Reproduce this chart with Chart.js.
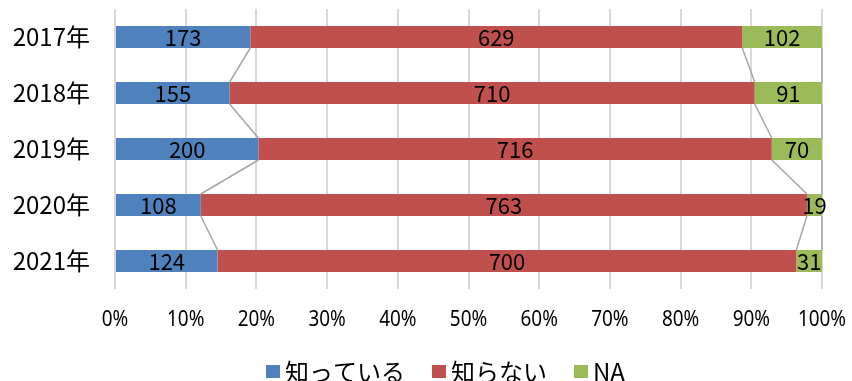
<!DOCTYPE html>
<html><head><meta charset="utf-8">
<script src="https://cdn.jsdelivr.net/npm/chart.js@4/dist/chart.umd.min.js"></script>
<style>html,body{margin:0;padding:0;background:#fff}#wrap{width:852px;height:381px}</style>
</head><body><div id="wrap"><canvas id="c" width="852" height="381"></canvas></div>
<script>
const categories = ["2017年","2018年","2019年","2020年","2021年"];
const seriesNames = ["知っている","知らない","NA"];
const known = [173,155,200,108,124];
const unknown = [629,710,716,763,700];
const na = [102,91,70,19,31];
const tickValues = [0,10,20,30,40,50,60,70,80,90,100];
const tickLabels = ["0%","10%","20%","30%","40%","50%","60%","70%","80%","90%","100%"];
const colors = ["#4f81bd","#c0504d","#9bbb59"];

const raw = [known, unknown, na];
const totals = categories.map((_, i) => raw.reduce((s, a) => s + a[i], 0));
const pct = raw.map(a => a.map((v, i) => v / totals[i] * 100));

const seriesLines = {
  id: 'seriesLines',
  afterDatasetsDraw(chart) {
    const ctx = chart.ctx, xs = chart.scales.x;
    ctx.save();
    ctx.strokeStyle = '#a6a6a6';
    ctx.lineWidth = 1.5;
    const cum = categories.map(() => 0);
    raw.forEach((a, d) => {
      const meta = chart.getDatasetMeta(d);
      categories.forEach((_, i) => cum[i] += pct[d][i]);
      for (let i = 0; i < categories.length - 1; i++) {
        const b1 = meta.data[i], b2 = meta.data[i + 1];
        ctx.beginPath();
        ctx.moveTo(xs.getPixelForValue(Math.min(cum[i],100)), b1.y + b1.height / 2);
        ctx.lineTo(xs.getPixelForValue(Math.min(cum[i+1],100)), b2.y - b2.height / 2);
        ctx.stroke();
      }
    });
    ctx.restore();
  }
};

const valueLabels = {
  id: 'valueLabels',
  afterDatasetsDraw(chart) {
    const ctx = chart.ctx;
    ctx.save();
    ctx.fillStyle = '#000';
    ctx.font = '22px "Noto Sans CJK JP", sans-serif';
    ctx.textAlign = 'center';
    ctx.textBaseline = 'middle';
    raw.forEach((a, d) => {
      chart.getDatasetMeta(d).data.forEach((bar, i) => {
        const cx = (bar.x + bar.base) / 2;
        ctx.fillText(String(a[i]), cx, bar.y + 1);
      });
    });
    ctx.restore();
  }
};

// x tick labels (slightly condensed) + legend
const axisAndLegend = {
  id: 'axisAndLegend',
  afterDraw(chart) {
    const ctx = chart.ctx, xs = chart.scales.x, area = chart.chartArea;
    const sx = 0.9;
    ctx.save();
    ctx.fillStyle = '#000';
    ctx.textBaseline = 'middle';
    ctx.textAlign = 'center';
    ctx.font = '21px "Noto Sans", sans-serif';
    tickValues.forEach((v, i) => {
      const px = xs.getPixelForValue(v);
      ctx.save();
      ctx.translate(px, area.bottom + 31);
      ctx.scale(sx, 1);
      ctx.fillText(tickLabels[i], 0, 0);
      ctx.restore();
    });
    // legend
    ctx.font = '24px "Noto Sans CJK JP", sans-serif';
    ctx.textAlign = 'left';
    let x = 266;
    const ly = area.bottom + 83;
    seriesNames.forEach((n, d) => {
      ctx.fillStyle = colors[d];
      ctx.fillRect(x, ly - 7, 14, 13);
      ctx.fillStyle = '#000';
      ctx.fillText(n, x + 19, ly);
      x += 19 + ctx.measureText(n).width + 27;
    });
    ctx.restore();
  }
};

new Chart(document.getElementById('c'), {
  type: 'bar',
  data: {
    labels: categories,
    datasets: seriesNames.map((n, d) => ({
      label: n, data: pct[d], backgroundColor: colors[d],
      borderWidth: 0, barPercentage: 0.393, categoryPercentage: 1
    }))
  },
  options: {
    indexAxis: 'y',
    responsive: false,
    animation: false,
    layout: { padding: { top: 9, right: 30, left: 0, bottom: 0 } },
    scales: {
      x: {
        stacked: true, min: 0, max: 100,
        ticks: { display: false, stepSize: 10 },
        grid: { color: '#d9d9d9', lineWidth: 2, drawTicks: false },
        border: { display: false },
        afterFit(s) { s.height = 92; s.paddingLeft = 0; s.paddingRight = 0; }
      },
      y: {
        stacked: true,
        ticks: { color: '#000', padding: 25,
          font: { family: '"Noto Sans CJK JP", sans-serif', size: 24 } },
        grid: { display: false, drawTicks: false },
        border: { display: false },
        afterFit(s) { s.width = 115; s.paddingTop = 0; s.paddingBottom = 0; }
      }
    },
    plugins: {
      legend: { display: false },
      tooltip: { enabled: false }
    }
  },
  plugins: [seriesLines, valueLabels, axisAndLegend]
});
</script></body></html>
